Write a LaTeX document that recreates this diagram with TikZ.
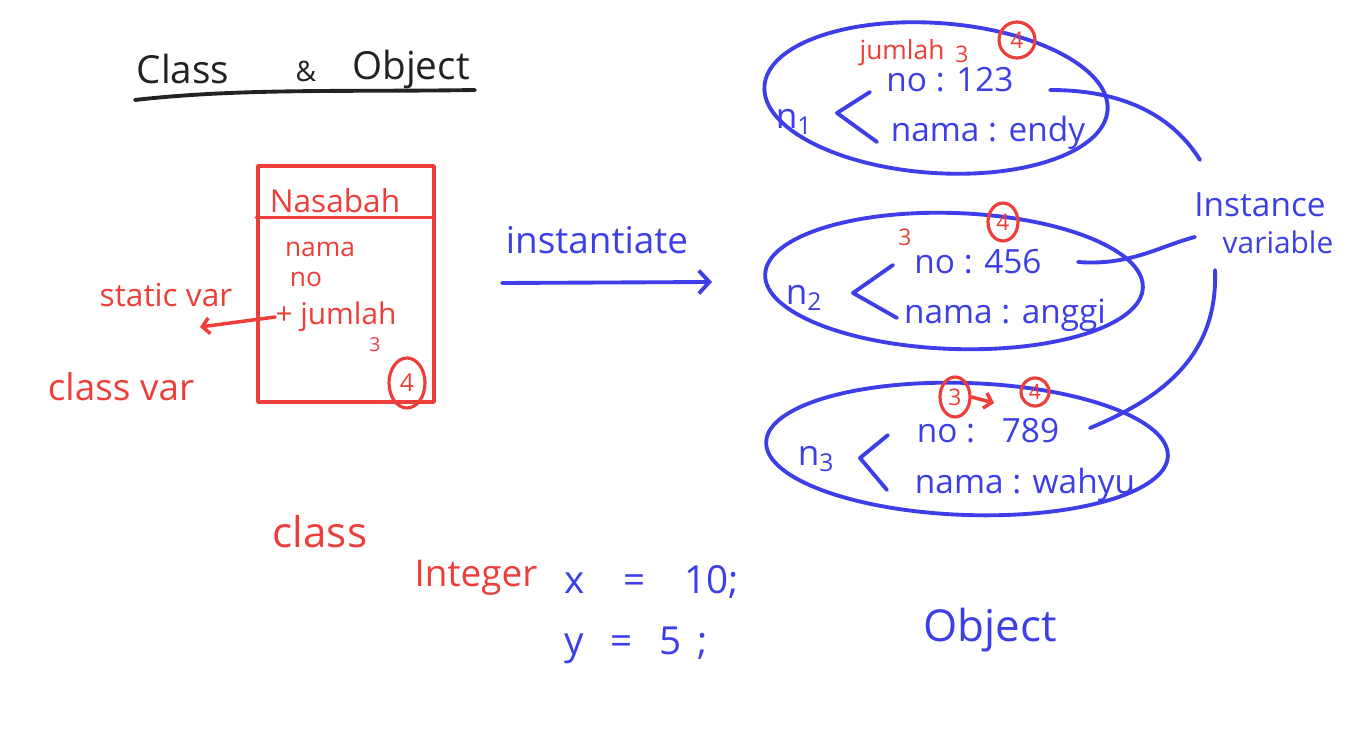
\documentclass[tikz,border=0pt]{standalone}
\usepackage{fontspec}
\setmainfont{Open Sans}
\usepackage{tikz}
\usetikzlibrary{positioning}
\usetikzlibrary{arrows.meta}
\usetikzlibrary{shapes.geometric}
\definecolor{penred}{RGB}{238,62,58}
\definecolor{penblue}{RGB}{62,62,232}
\definecolor{penblack}{RGB}{34,34,34}
\newcommand{\penfont}[1]{\fontsize{#1}{#1}\selectfont}

\begin{document}
\begin{tikzpicture}[
    x=0.02cm, y=-0.02cm,
    redpen/.style={draw=penred, line width=2pt, line cap=round, line join=round},
    bluepen/.style={draw=penblue, line width=2.2pt, line cap=round, line join=round},
    redtext/.style={text=penred, inner sep=0pt},
    bluetext/.style={text=penblue, inner sep=0pt},
    oval/.style={ellipse, bluepen, inner sep=0pt},
    ring/.style={ellipse, redpen, line width=1.8pt, text=penred, inner sep=0pt},
    bigbarb/.style={-{Straight Barb[length=6pt,width=13pt]}},
    smallbarb/.style={-{Straight Barb[length=4pt,width=9pt]}}
]
\fill[white] (0,0) rectangle (1362,746);
\useasboundingbox (0,0) rectangle (1362,746);

% title
\node[text=penblack, font=\penfont{22}] (tClass) at (183,69) {Class};
\node[text=penblack, font=\penfont{16}] (tAmp) at (306,71) {\&};
\node[text=penblack, font=\penfont{22}] (tObject) at (411,69) {Object};
\coordinate (ulA) at (135,100);
\coordinate (ulB) at (475,90);
\draw[penblack, line width=2.2pt, line cap=round] (ulA) .. controls (240,88) and (350,92) .. (ulB);

% class box
\node[redpen, minimum width=3.52cm, minimum height=4.72cm] (nasabahBox) at (346,284) {};
\path (nasabahBox.north west) ++(0,53) coordinate (hdrL);
\path (nasabahBox.north east) ++(-3,53) coordinate (hdrR);
\draw[redpen] (hdrL) -- (hdrR);

\node[redtext, font=\penfont{18}] (nasabah) at (335,201) {Nasabah};
\node[redtext, font=\penfont{15}] (fNama) at (320,249) {nama};
\node[redtext, font=\penfont{15}] (fNo) at (306,279) {no};
\node[redtext, font=\penfont{17}] (fJumlah) at (336,317) {+ jumlah};
\node[redtext, font=\penfont{11}] (oldJumlah) at (375,345) {3};
\node[ring, minimum width=0.72cm, minimum height=1.0cm, font=\penfont{14}] (ringBox) at (407,383) {4};

\node[redtext, font=\penfont{18}] (staticVar) at (166,295) {static var};
\coordinate (staticTip) at (200,327);
\draw[redpen, smallbarb] (fJumlah.west) -- (staticTip);
\node[redtext, font=\penfont{21}] (classVar) at (121,387) {class var};

% instantiate
\node[bluetext, font=\penfont{21}] (instText) at (597,240) {instantiate};
\coordinate (instFrom) at (502,283);
\coordinate (instTo) at (712,282);
\draw[bluepen, bigbarb] (instFrom) -- (instTo);

% objects
\node[oval, minimum width=6.88cm, minimum height=3.0cm, rotate=-4] (oval1) at (936,98) {};
\node[oval, minimum width=7.56cm, minimum height=2.72cm, rotate=-2] (oval2) at (954,281) {};
\node[oval, minimum width=8.04cm, minimum height=2.64cm, rotate=-2] (oval3) at (967,449) {};

\node[bluetext, font=\penfont{20}] (n1) at (794,122) {n\textsubscript{1}};
\draw[bluepen] (870,92) -- (837,113) -- (877,142);
\node[bluetext, font=\penfont{19}] (no1) at (950,80) {no : 123};
\node[bluetext, font=\penfont{19}] (nama1) at (988,133) {nama : endy};
\node[redtext, font=\penfont{15}] (jumlahNote) at (902,53) {jumlah};
\node[redtext, font=\penfont{13}] (old1) at (962,54) {3};
\node[ring, minimum size=0.72cm, font=\penfont{13}] (ring1) at (1017,40) {4};

\node[bluetext, font=\penfont{20}] (n2) at (804,298) {n\textsubscript{2}};
\draw[bluepen] (893,265) -- (853,293) -- (897,318);
\node[bluetext, font=\penfont{19}] (no2) at (978,262) {no : 456};
\node[bluetext, font=\penfont{19}] (nama2) at (1005,315) {nama : anggi};
\node[redtext, font=\penfont{13}] (old2) at (905,237) {3};
\node[ring, minimum width=0.6cm, minimum height=0.76cm, font=\penfont{13}] (ring2) at (1003,222) {4};

\node[bluetext, font=\penfont{20}] (n3) at (816,459) {n\textsubscript{3}};
\draw[bluepen] (888,435) -- (860,458) -- (887,490);
\node[bluetext, font=\penfont{19}] (no3) at (988,431) {no :\hspace{0.8em}789};
\node[bluetext, font=\penfont{19}] (nama3) at (1025,485) {nama : wahyu};
\node[ring, minimum width=0.6cm, minimum height=0.8cm, font=\penfont{13}] (ring3a) at (955,397) {3};
\node[ring, minimum size=0.56cm, font=\penfont{12}] (ring3b) at (1035,392) {4};
\coordinate (ringTip) at (994,403);
\draw[redpen, smallbarb] (ring3a.east) -- (ringTip);

% instance variable
\node[bluetext, font=\penfont{19}] (instVarA) at (1260,205) {Instance};
\node[bluetext, font=\penfont{17}] (instVarB) at (1278,242) {variable};
\coordinate (tail1) at (1050,90);
\coordinate (head1) at (1200,160);
\coordinate (tail2) at (1078,262);
\coordinate (head2) at (1195,237);
\coordinate (head3) at (1215,270);
\coordinate (tail3) at (1090,428);
\draw[bluepen] (tail1) .. controls (1130,90) and (1175,120) .. (head1);
\draw[bluepen] (tail2) .. controls (1130,266) and (1160,246) .. (head2);
\draw[bluepen] (head3) .. controls (1218,350) and (1170,395) .. (tail3);

% code
\node[redtext, font=\penfont{24}] (classWord) at (320,532) {class};
\node[redtext, font=\penfont{21}] (integerWord) at (476,578) {Integer};
\node[bluetext, font=\penfont{22}] (lineX) at (652,582) {x\hspace{1em}=\hspace{1em}10;};
\node[bluetext, font=\penfont{22}] (lineY) at (636,645) {y\hspace{0.7em}=\hspace{0.7em}5\hspace{0.4em};};
\node[bluetext, font=\penfont{25}] (objectWord) at (990,630) {Object};
\end{tikzpicture}
\end{document}
